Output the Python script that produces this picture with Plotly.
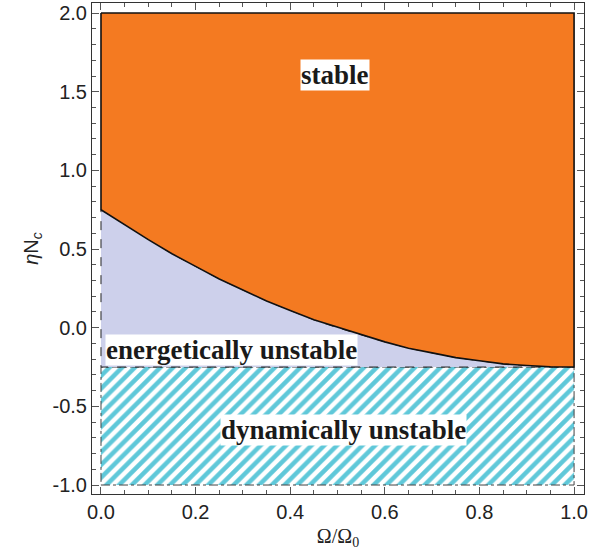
import plotly.graph_objects as go

# Boundary curve between stable and energetically unstable regions
omega = [0.0, 0.05, 0.1, 0.15, 0.2, 0.25, 0.3, 0.35, 0.4, 0.45, 0.5,
         0.55, 0.6, 0.65, 0.7, 0.75, 0.8, 0.85, 0.9, 0.95, 1.0]
eta_nc_curve = [0.75, 0.655, 0.56, 0.47, 0.39, 0.31, 0.24, 0.17, 0.11, 0.05, 0.0,
                -0.045, -0.09, -0.13, -0.16, -0.19, -0.21, -0.23, -0.24, -0.248, -0.25]

# Region limits
x_min, x_max = 0.0, 1.0
y_top = 2.0
y_threshold = -0.25
y_bottom = -1.0

region_labels = ["stable", "energetically unstable", "dynamically unstable"]
label_x = [0.495, 0.275, 0.513]
label_y = [1.608, -0.14, -0.65]

x_ticks = [0.0, 0.2, 0.4, 0.6, 0.8, 1.0]
y_ticks = [-1.0, -0.5, 0.0, 0.5, 1.0, 1.5, 2.0]

fig = go.Figure()

# Dynamically unstable (hatched)
fig.add_trace(go.Scatter(
    x=[x_min, x_max, x_max, x_min, x_min],
    y=[y_bottom, y_bottom, y_threshold, y_threshold, y_bottom],
    mode="lines", fill="toself",
    fillcolor="white",
    fillpattern=dict(shape="/", fgcolor="#5fc8d9", fgopacity=1, bgcolor="white", size=9, solidity=0.5),
    line=dict(color="#444444", width=1, dash="dashdot"),
    hoverinfo="skip", showlegend=False))

# Energetically unstable (lavender)
fig.add_trace(go.Scatter(
    x=omega + [x_min, x_min],
    y=eta_nc_curve + [y_threshold, eta_nc_curve[0]],
    mode="lines", fill="toself", fillcolor="#cdd0eb",
    line=dict(color="#222222", width=1, dash="dash"),
    hoverinfo="skip", showlegend=False))

# Stable (orange)
fig.add_trace(go.Scatter(
    x=[x_min, x_max] + omega[::-1] + [x_min],
    y=[y_top, y_top] + eta_nc_curve[::-1] + [y_top],
    mode="lines", fill="toself", fillcolor="#f47a21",
    line=dict(color="#111111", width=1.6),
    hoverinfo="skip", showlegend=False))

for t, x, y in zip(region_labels, label_x, label_y):
    fig.add_annotation(
        x=x, y=y, text="<b>" + t + "</b>", showarrow=False,
        font=dict(family="Liberation Serif", size=27, color="#1a1a1a"),
        bgcolor="white", borderpad=0)

axis_common = dict(
    showgrid=False, zeroline=False, showline=True, linecolor="#333333", linewidth=1,
    mirror="allticks", ticks="inside", ticklen=7, tickcolor="#555555", tickwidth=1,
    tickfont=dict(family="Liberation Sans", size=20, color="#222222"),
    automargin=False,
)

fig.update_xaxes(
    range=[-0.019, 1.021], tickvals=x_ticks, ticktext=[f"{v:.1f}" for v in x_ticks],
    minor=dict(ticks="inside", ticklen=4, tickcolor="#555555", dtick=0.05, showgrid=False),
    title=dict(text="Ω/Ω<sub>0</sub>", font=dict(family="Liberation Serif", size=20, color="#222222"), standoff=6),
    **axis_common)
fig.update_yaxes(
    range=[-1.057, 2.064], tickvals=y_ticks, ticktext=[f"{v:.1f}" for v in y_ticks],
    minor=dict(ticks="inside", ticklen=4, tickcolor="#555555", dtick=0.1, showgrid=False),
    title=dict(text="<i>η</i>N<sub><i>c</i></sub>", font=dict(family="Liberation Sans", size=20, color="#222222"), standoff=8),
    **axis_common)

fig.update_layout(
    width=606, height=556,
    margin=dict(l=92, r=22, t=3, b=62),
    plot_bgcolor="white", paper_bgcolor="white",
)

fig.write_html("out.html", config={"displayModeBar": False},
               post_script="document.body.style.margin='0';")
